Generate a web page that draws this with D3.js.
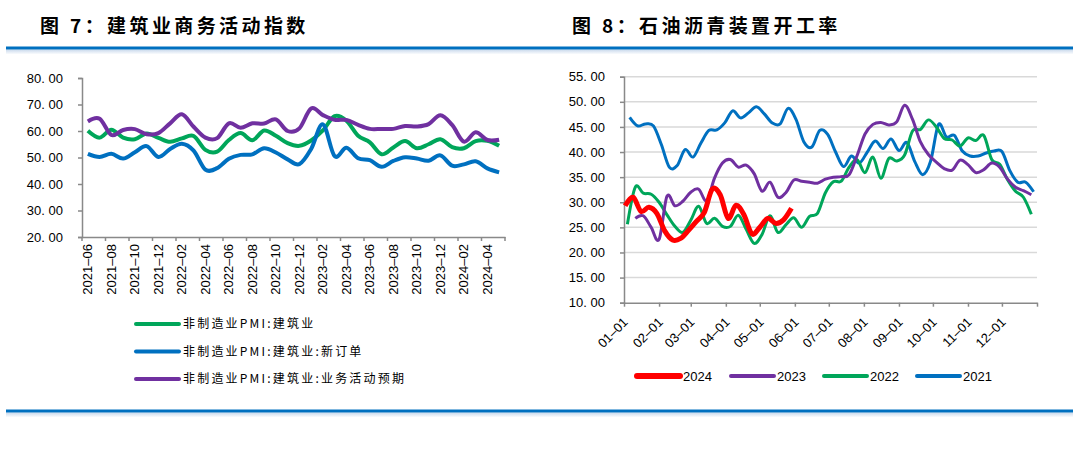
<!DOCTYPE html>
<html>
<head>
<meta charset="UTF-8">
<title>建筑业商务活动指数 / 石油沥青装置开工率</title>
<script src="https://d3js.org/d3.v7.min.js"></script>
<style>
  body { margin: 0; background: #fff; }
  svg { display: block; }
  text { font-family: "Liberation Sans", Arial, sans-serif; fill: #000; }
  .cjk { font-family: "Noto Sans CJK SC", sans-serif; }
</style>
</head>
<body>
<svg id="chart" width="1080" height="452"></svg>
<script>
// ---- 图7 data (monthly) ----
const months = ["2021-06","2021-07","2021-08","2021-09","2021-10","2021-11","2021-12",
  "2022-01","2022-02","2022-03","2022-04","2022-05","2022-06","2022-07","2022-08","2022-09","2022-10","2022-11","2022-12",
  "2023-01","2023-02","2023-03","2023-04","2023-05","2023-06","2023-07","2023-08","2023-09","2023-10","2023-11","2023-12",
  "2024-01","2024-02","2024-03","2024-04","2024-05"];
const construction = [60.1,57.5,60.5,57.5,56.9,59.1,57.4,55.9,57.2,58.1,52.9,52.2,56.6,59.2,56.5,60.2,58.2,55.4,54.4,
  56.4,60.2,65.6,63.9,58.2,55.7,51.2,53.8,56.2,53.5,55.0,56.9,53.9,53.5,56.2,56.3,54.4];
const newOrders = [51.4,50.2,51.4,49.6,52.0,54.3,50.2,53.2,55.2,52.6,45.4,46.0,49.5,51.0,51.2,53.5,51.9,49.3,47.5,
  53.2,62.5,50.5,53.7,49.7,49.0,46.5,48.7,50.1,49.6,48.8,50.8,46.9,47.4,48.6,45.9,44.4];
const expectation = [63.6,64.6,58.5,60.4,60.7,58.8,59.2,62.9,66.3,61.6,57.5,57.3,62.9,61.2,62.9,62.8,64.4,60.0,61.0,
  68.5,66.0,64.2,64.2,62.3,60.8,60.8,60.8,61.9,61.7,62.6,65.9,62.3,56.0,59.5,56.6,56.7];
const leftTicks = [20, 30, 40, 50, 60, 70, 80];

// ---- 图8 data (weekly, first day-of-year and values) ----
const years = ["2024", "2023", "2022", "2021"];
const firstDay = { "2024": 1, "2023": 10, "2022": 3, "2021": 5 };
const rate2024 = [29.3,31.0,28.2,29.0,27.8,24.3,22.5,22.8,24.4,26.2,28.0,32.6,31.5,26.8,29.4,27.5,23.7,25.0,26.8,25.8,26.5,28.8];
const rate2023 = [26.8,27.3,25.0,22.6,31.2,29.3,30.2,32.0,32.6,30.3,34.8,37.8,38.5,37.0,37.4,35.7,32.2,34.0,31.0,31.9,
  34.4,34.2,34.0,33.8,34.6,35.0,35.1,35.5,39.3,43.6,45.5,45.9,45.4,46.0,49.3,46.5,42.0,39.5,38.0,36.7,36.4,38.4,37.5,
  35.9,36.5,37.8,37.0,34.6,33.0,32.3,31.5];
const rate2022 = [25.6,33.0,31.8,31.6,30.0,27.5,25.2,24.0,26.4,29.2,25.8,26.8,25.2,25.2,27.4,24.6,21.8,23.6,27.3,24.0,
  25.5,26.9,25.0,27.2,27.8,31.9,34.1,34.2,37.0,38.5,35.9,39.0,34.8,38.7,38.2,39.4,44.2,44.5,46.4,45.0,42.7,42.4,41.2,
  42.8,42.3,43.3,38.5,37.6,34.5,32.2,31.0,27.6];
const rate2021 = [46.9,45.2,45.6,45.2,41.5,37.0,37.3,40.5,39.0,41.8,44.3,44.4,45.8,48.2,46.8,47.8,49.0,47.6,45.8,45.6,
  48.7,46.5,42.0,41.0,44.3,43.5,40.0,37.1,39.2,37.8,40.0,42.2,40.7,42.6,40.3,41.9,38.1,35.5,38.2,45.5,43.0,43.3,40.2,
  39.2,39.2,39.8,40.2,40.1,36.3,34.0,34.0,32.1];
const rightTicks = [10, 15, 20, 25, 30, 35, 40, 45, 50, 55];

const svg = d3.select("#chart");
const axisGrey = "#898989";
const fmt = d => d3.format(".2f")(d).replace(".", ". ");

// ---- page frame: titles and blue rules ----
const defs = svg.append("defs");
const grad = defs.append("linearGradient").attr("id", "shade").attr("x1", 0).attr("x2", 0).attr("y1", 0).attr("y2", 1);
grad.append("stop").attr("offset", "0%").attr("stop-color", "#c9d9ec");
grad.append("stop").attr("offset", "100%").attr("stop-color", "#ffffff");

[48, 411].forEach(y => {
  svg.append("rect").attr("x", 6).attr("y", y + 1.5).attr("width", 1067).attr("height", 5).attr("fill", "url(#shade)");
  svg.append("line").attr("x1", 6).attr("x2", 1073).attr("y1", y).attr("y2", y)
    .attr("stroke", "#0070c0").attr("stroke-width", 3);
});

svg.append("text").attr("class", "cjk").attr("x", 40).attr("y", 33)
  .style("font-size", "19px").style("font-weight", 700).style("letter-spacing", "3.4px")
  .text("图 7：建筑业商务活动指数");
svg.append("text").attr("class", "cjk").attr("x", 572).attr("y", 33)
  .style("font-size", "19px").style("font-weight", 700).style("letter-spacing", "3.4px")
  .text("图 8：石油沥青装置开工率");

// ---- 图7 ----
const xL = d3.scaleBand().domain(months).range([82, 505]).padding(0);
const yL = d3.scaleLinear().domain([20, 80]).range([237, 78]);
const cx = m => xL(m) + xL.bandwidth() / 2;

const gL = svg.append("g");
const yAxisL = gL.append("g").attr("transform", "translate(82,0)")
  .call(d3.axisLeft(yL).tickValues(leftTicks).tickSize(4).tickPadding(15).tickFormat(fmt));
const xAxisL = gL.append("g").attr("transform", "translate(0,237)")
  .call(d3.axisBottom(xL).tickValues(months.filter((m, i) => i % 2 === 0)).tickSize(0).tickSizeOuter(0).tickPadding(0));
xAxisL.selectAll(".tick text")
  .attr("transform", "rotate(-90)").attr("text-anchor", "end")
  .attr("x", -7).attr("y", 0).attr("dy", "0.35em")
  .text(d => d.replace("-", "–"));
// tick marks sit between categories
const tickPosL = months.filter((m, i) => i % 2 === 0).map(m => xL(m)).concat([xL.range()[1]]);
xAxisL.selectAll(".mk").data(tickPosL).enter().append("line")
  .attr("x1", d => d).attr("x2", d => d).attr("y1", 0).attr("y2", 4);

[yAxisL, xAxisL].forEach(a => {
  a.selectAll("path, line").attr("stroke", axisGrey).attr("stroke-width", 1.5);
  a.selectAll("text").style("font-size", "13px").attr("fill", "#000");
});

const leftSeries = [
  { name: "非制造业PMI:建筑业", values: construction, color: "#00a65a" },
  { name: "非制造业PMI:建筑业:新订单", values: newOrders, color: "#0070c0" },
  { name: "非制造业PMI:建筑业:业务活动预期", values: expectation, color: "#7030a0" }
];
const lineL = d3.line().x((d, i) => cx(months[i])).y(d => yL(d)).curve(d3.curveCardinal.tension(0));
leftSeries.forEach(s => {
  gL.append("path").datum(s.values).attr("d", lineL)
    .attr("fill", "none").attr("stroke", s.color).attr("stroke-width", 4).attr("stroke-linejoin", "round");
});

const legL = gL.selectAll(".legL").data(leftSeries).enter().append("g")
  .attr("transform", (d, i) => `translate(136,${324 + i * 27.5})`);
legL.append("line").attr("x1", 0).attr("x2", 43).attr("stroke", d => d.color).attr("stroke-width", 4).attr("stroke-linecap", "round");
legL.append("text").attr("class", "cjk").attr("x", 47).attr("dy", "0.35em")
  .style("font-size", "12px").style("letter-spacing", "2.2px").text(d => d.name);

// ---- 图8 ----
const xR = d3.scaleTime().domain([new Date(2021, 0, 1), new Date(2022, 0, 1)]).range([624, 1037]);
const yR = d3.scaleLinear().domain([10, 55]).range([302.7, 76.7]);
const gR = svg.append("g");

gR.selectAll(".grid").data(rightTicks.slice(1)).enter().append("line")
  .attr("x1", 624).attr("x2", 1037).attr("y1", d => yR(d)).attr("y2", d => yR(d))
  .attr("stroke", "#d9d9d9").attr("stroke-width", 1.5);

const yAxisR = gR.append("g").attr("transform", "translate(624,0)")
  .call(d3.axisLeft(yR).tickValues(rightTicks).tickSize(4).tickPadding(15).tickFormat(fmt));
const monthTicks = d3.timeMonth.range(new Date(2021, 0, 1), new Date(2022, 0, 2));
const xAxisR = gR.append("g").attr("transform", "translate(0,302.7)")
  .call(d3.axisBottom(xR).tickValues(monthTicks).tickSize(4).tickSizeOuter(0)
    .tickFormat(d => d.getFullYear() === 2021 ? d3.timeFormat("%m–%d")(d) : ""));
xAxisR.selectAll(".tick text")
  .attr("text-anchor", "end").attr("transform", "translate(1,17) rotate(-45)")
  .attr("y", 0).attr("dy", "0.35em");

[yAxisR, xAxisR].forEach(a => {
  a.selectAll("path, line").attr("stroke", axisGrey).attr("stroke-width", 1.5);
  a.selectAll("text").style("font-size", "13px").attr("fill", "#000");
});

const rightSeries = [
  { year: "2021", values: rate2021, color: "#0070c0", width: 3 },
  { year: "2022", values: rate2022, color: "#00a65a", width: 3 },
  { year: "2023", values: rate2023, color: "#7030a0", width: 3 },
  { year: "2024", values: rate2024, color: "#ff0000", width: 5 }
];
rightSeries.forEach(s => {
  const pts = s.values.map((v, k) => ({ date: new Date(2021, 0, 1 + firstDay[s.year] + 7 * k), v: v }));
  const line = d3.line().x(d => xR(d.date)).y(d => yR(d.v)).curve(d3.curveCardinal.tension(0));
  gR.append("path").datum(pts).attr("d", line)
    .attr("fill", "none").attr("stroke", s.color).attr("stroke-width", s.width).attr("stroke-linejoin", "round");
});

const legX = [637, 731, 824, 917];
const legR = gR.selectAll(".legR").data(years.map(y => rightSeries.find(s => s.year === y))).enter().append("g")
  .attr("transform", (d, i) => `translate(${legX[i]},376)`);
legR.append("line").attr("x1", 0).attr("x2", 43).attr("stroke", d => d.color)
  .attr("stroke-width", d => d.width + 1).attr("stroke-linecap", "round");
legR.append("text").attr("x", 46).attr("dy", "0.35em").style("font-size", "13px").text(d => d.year);
</script>
</body>
</html>
